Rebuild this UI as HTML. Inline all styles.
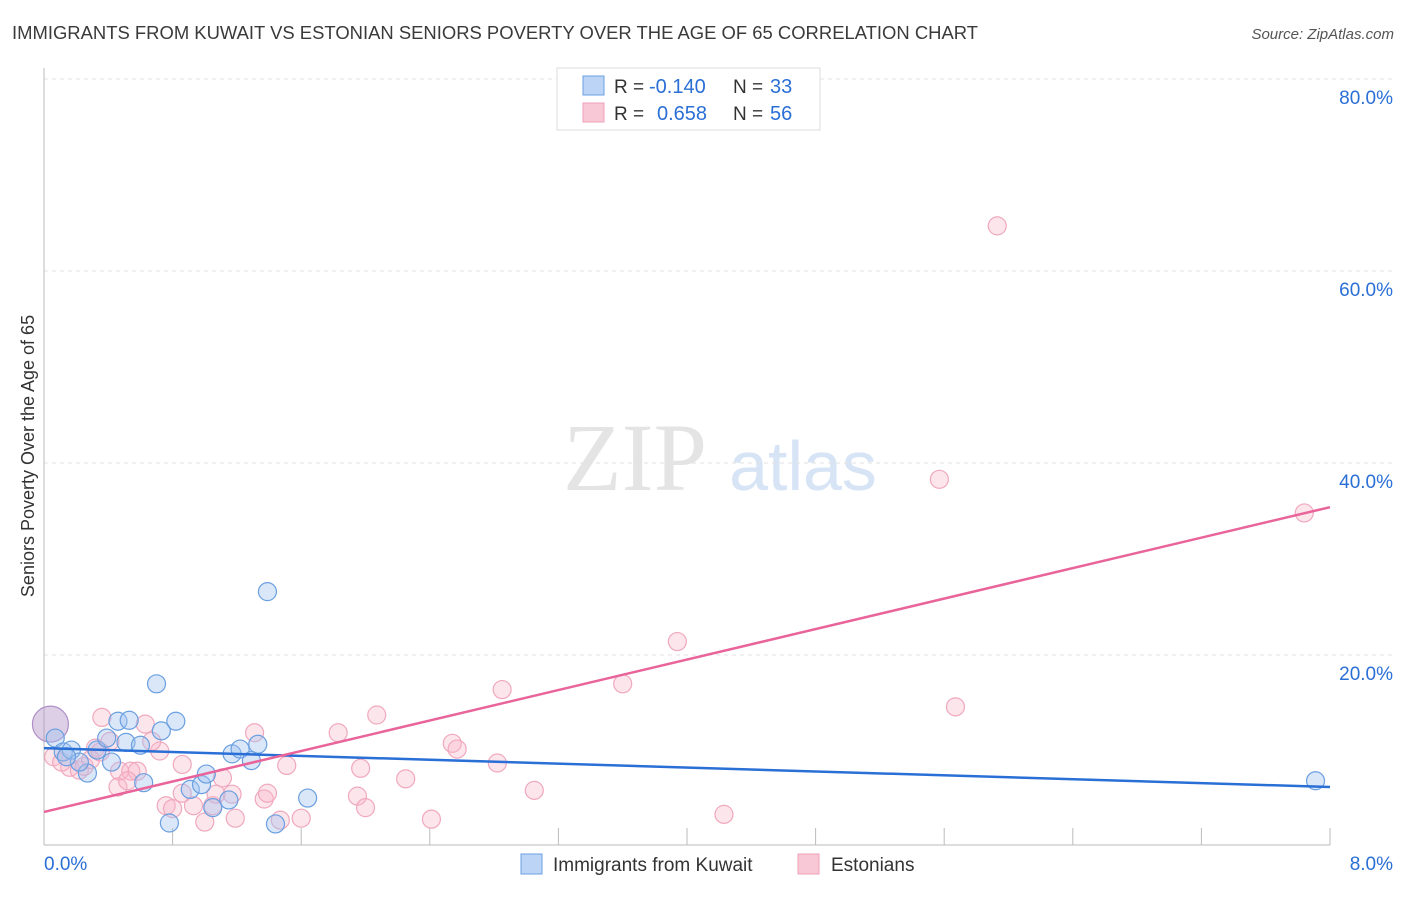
<!DOCTYPE html>
<html><head><meta charset="utf-8"><style>
body{margin:0;background:#fff;font-family:"Liberation Sans",sans-serif;}
</style></head><body>
<svg id="chart" width="1406" height="892" xmlns="http://www.w3.org/2000/svg">
<text x="12" y="39" font-size="18" fill="#3a3a3a" textLength="966" lengthAdjust="spacingAndGlyphs">IMMIGRANTS FROM KUWAIT VS ESTONIAN SENIORS POVERTY OVER THE AGE OF 65 CORRELATION CHART</text>
<text x="1394" y="39" font-size="15" fill="#555" font-style="italic" text-anchor="end">Source: ZipAtlas.com</text>
<g>
<text x="635" y="490" font-size="96" fill="#e4e4e4" font-family="Liberation Serif,serif" text-anchor="middle">ZIP</text>
<text x="803" y="490" font-size="70" fill="#d6e4f6" text-anchor="middle">atlas</text>
</g>
<g id="grid"></g>
<line x1="44" y1="68" x2="44" y2="845" stroke="#bbb"/>
<line x1="44" y1="845" x2="1330" y2="845" stroke="#bbb"/>
<text transform="translate(34,456) rotate(-90)" font-size="18" fill="#333" text-anchor="middle">Seniors Poverty Over the Age of 65</text>
<g id="marks"></g>
<g>
<rect x="557" y="68" width="263" height="62" fill="#fff" stroke="#ddd"/>
<rect x="583" y="76" width="21" height="19" fill="#bcd5f7" stroke="#6a9fe0"/>
<rect x="583" y="103" width="21" height="19" fill="#f9c8d6" stroke="#f0a0b8"/>
<text x="614" y="93" font-size="19" fill="#333">R =</text>
<text x="649" y="93" font-size="20" fill="#2a6fd6">-0.140</text>
<text x="733" y="93" font-size="19" fill="#333">N =</text>
<text x="770" y="93" font-size="20" fill="#2a6fd6">33</text>
<text x="614" y="120" font-size="19" fill="#333">R =</text>
<text x="657" y="120" font-size="20" fill="#2a6fd6">0.658</text>
<text x="733" y="120" font-size="19" fill="#333">N =</text>
<text x="770" y="120" font-size="20" fill="#2a6fd6">56</text>
</g>
<g>
<rect x="521" y="854" width="21" height="20" fill="#bcd5f7" stroke="#6a9fe0"/>
<text x="553" y="871" font-size="19" fill="#333">Immigrants from Kuwait</text>
<rect x="798" y="854" width="21" height="20" fill="#f9c8d6" stroke="#f0a0b8"/>
<text x="831" y="871" font-size="19" fill="#333">Estonians</text>
</g>
</svg>
<script>
const yTicks=[20,40,60,80];
const yTickLabels=["20.0%","40.0%","60.0%","80.0%"];
const xTickLabels=["0.0%","8.0%"];
const blueX=[0.04,0.07,0.12,0.17,0.27,0.22,0.33,0.39,0.42,0.46,0.53,0.51,0.60,0.62,0.70,0.73,0.82,0.78,0.91,0.98,1.01,1.05,1.15,1.17,1.22,1.33,1.29,1.39,1.44,1.64,7.91,0.14];
const blueY=[12.8,11.35,9.9,10.1,7.7,8.85,10.1,11.35,8.85,13.1,13.2,10.9,10.6,6.7,17.0,12.1,13.1,2.5,6.0,6.5,7.6,4.1,4.9,9.7,10.2,10.7,9.0,26.6,2.4,5.1,6.9,9.4];
const pinkX=[5.93,5.57,7.84,3.94,3.60,2.85,5.67,2.07,0.36,0.63,1.83,2.54,2.57,1.31,0.72,0.32,0.06,0.16,0.22,0.41,0.67,0.25,0.47,0.54,0.58,0.46,0.52,0.86,1.97,2.82,1.51,2.25,1.11,3.05,0.76,0.80,0.86,0.93,1.05,1.17,1.07,1.00,1.19,1.37,1.39,1.47,1.60,1.95,2.00,2.41,4.23,0.11,0.29,0.35];
const pinkY=[64.7,38.3,34.8,21.4,17.0,16.4,14.6,13.75,13.5,12.8,11.9,10.8,10.2,11.9,10.0,10.3,9.4,8.3,8.0,11.0,11.0,8.4,7.9,7.9,7.9,6.25,6.9,8.6,8.2,8.75,8.5,7.1,7.2,5.9,4.3,4.0,5.6,4.3,4.3,5.5,5.5,2.6,3.0,5.0,5.6,2.8,3.0,5.3,4.1,2.9,3.4,8.85,9.1,9.9];
const blueTrend=[10.3,6.25];
const pinkTrend=[3.65,35.4];
const NS="http://www.w3.org/2000/svg";
const xs=v=>44+v/8*1286;
const ys=v=>847-v*9.6;
const grid=document.getElementById('grid'),marks=document.getElementById('marks'),svg=document.getElementById('chart');
function mk(t,a,p){const e=document.createElementNS(NS,t);for(const k in a)e.setAttribute(k,a[k]);p.appendChild(e);return e;}
yTicks.forEach((t,i)=>{
 const l=mk('line',{x1:44,x2:1394,y1:ys(t),y2:ys(t),stroke:'#e2e2e2','stroke-dasharray':'4,4'},grid);
 
 
 const tx=mk('text',{x:1393,y:ys(t)+25,'font-size':19,fill:'#2a6fd6','text-anchor':'end'},svg);
 tx.textContent=yTickLabels[i];
 
 
});
for(let i=1;i<=10;i++){
 const x=xs(i*0.8);
 const l=mk('line',{x1:x,x2:x,y1:828,y2:845,stroke:'#bbb'},grid);
 
 
}
[0,8].forEach((v,i)=>{
 const tx=mk('text',{x:i?1393:44,y:870,'font-size':19,fill:'#2a6fd6','text-anchor':i?'end':'start'},svg);
 tx.textContent=xTickLabels[i];
 
 
});
pinkX.forEach((x,i)=>{
 const c=mk('circle',{cx:xs(x),cy:ys(pinkY[i]),r:9,fill:'rgba(248,180,200,0.35)',stroke:'#f0a8be','stroke-width':1.2},marks);
 
 
});
blueX.forEach((x,i)=>{
 const c=mk('circle',{cx:xs(x),cy:ys(blueY[i]),r:i===0?18:9,fill:i===0?'rgba(180,150,200,0.45)':'rgba(160,196,240,0.4)',stroke:i===0?'#b090c8':'#6a9fe0','stroke-width':1.2},marks);
 
 
});
const bl=mk('line',{x1:xs(0),y1:ys(blueTrend[0]),x2:xs(8),y2:ys(blueTrend[1]),stroke:'#2a6fd6','stroke-width':2.5},marks);


const pl=mk('line',{x1:xs(0),y1:ys(pinkTrend[0]),x2:xs(8),y2:ys(pinkTrend[1]),stroke:'#e8649a','stroke-width':2.5},marks);


</script>
</body></html>
